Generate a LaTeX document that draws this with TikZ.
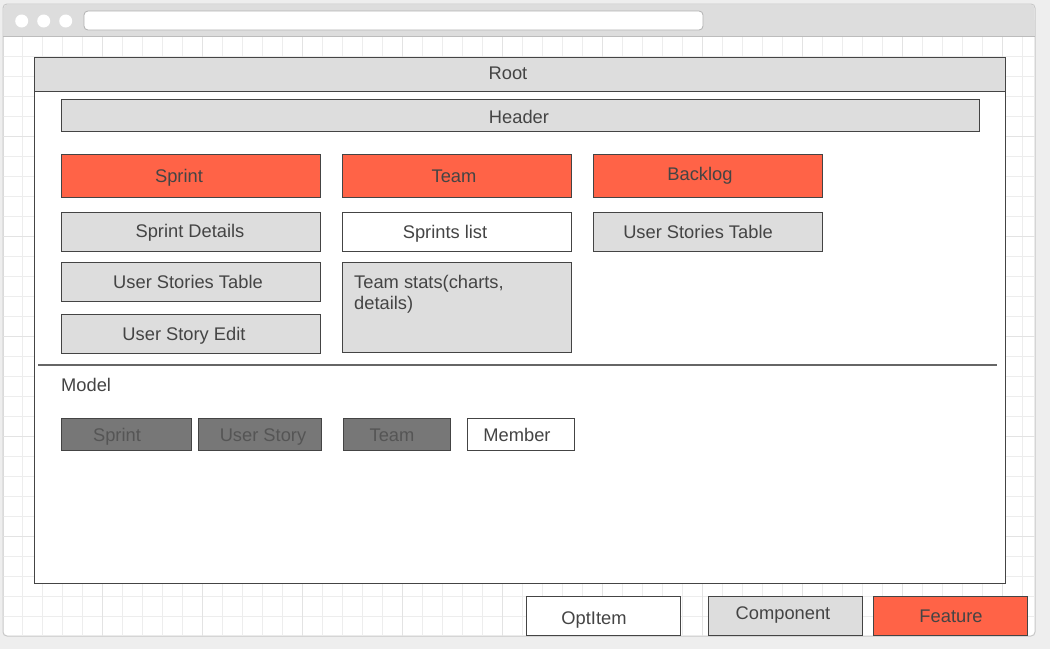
\documentclass[tikz,border=0pt]{standalone}
\usepackage{fontspec}
\setmainfont{Liberation Sans}
\definecolor{pagebg}{HTML}{EEEEEE}
\definecolor{chrome}{HTML}{DDDDDD}
\definecolor{gridc}{HTML}{EDEDED}
\definecolor{gridm}{HTML}{E3E3E3}
\definecolor{edge}{HTML}{444444}
\definecolor{txt}{HTML}{444444}
\definecolor{compc}{HTML}{DDDDDD}
\definecolor{featc}{HTML}{FF6347}
\definecolor{modelc}{HTML}{777777}
\definecolor{modeltxt}{HTML}{555555}
\definecolor{sepc}{HTML}{666666}
\tikzset{
  box/.style={draw=edge, line width=1pt},
  comp/.style={box, fill=compc},
  feat/.style={box, fill=featc},
  opt/.style={box, fill=white},
  modelbox/.style={box, fill=modelc},
  lbl/.style={text=txt, font=\fontsize{18.3}{21}\selectfont, inner sep=0pt, text height=13pt, text depth=0pt},
  mlbl/.style={lbl, text=modeltxt},
}
\begin{document}
\begin{tikzpicture}[x=1pt, y=-1pt]
\useasboundingbox (0,0) rectangle (1050,649);
\fill[pagebg] (0,0) rectangle (1050,649);
% browser window
\fill[white, draw=chrome!90!black, line width=1pt, rounded corners=4pt] (3,4) rectangle (1035,636);
\fill[chrome, rounded corners=4pt] (3.5,4.5) rectangle (1034.5,36.5);
\fill[chrome] (3.5,20) rectangle (1034.5,36.5);
\draw[chrome!85!black, line width=0.8pt] (3,36.7) -- (1035,36.7);
\foreach \cx in {21.7,43.7,65.7} \fill[white] (\cx,21) circle (6.5);
\draw[white, fill=white, draw=chrome!80!black, line width=0.8pt, rounded corners=4pt] (84,11) rectangle (703,30);
% grid
\begin{scope}
\clip (3.5,37.2) rectangle (1034.5,635.5);
\foreach \gx in {22.7,42.7,...,1035} \draw[gridc, line width=1pt] (\gx,37) -- (\gx,636);
\foreach \gy in {56.7,76.7,...,636} \draw[gridc, line width=1pt] (3,\gy) -- (1035,\gy);
\foreach \gx in {102.7,202.7,...,1035} \draw[gridm, line width=1pt] (\gx,37) -- (\gx,636);
\foreach \gy in {136.7,236.7,...,636} \draw[gridm, line width=1pt] (3,\gy) -- (1035,\gy);
\end{scope}
% root
\draw[box, fill=white] (34.5,57.5) rectangle (1005,583);
\draw[box, fill=compc] (34.5,57.5) rectangle (1005,91.5);
\node[lbl] (root) at (508,73) {Root};
% header
\draw[comp] (61,99) rectangle (979,131);
\node[lbl] (header) at (519,117) {Header};
% features
\draw[feat] (61,154) rectangle (320,197);
\node[lbl] (fsprint) at (179,176) {Sprint};
\draw[feat] (342,154) rectangle (571,197);
\node[lbl] (fteam) at (454,176) {Team};
\draw[feat] (593,154) rectangle (822,197);
\node[lbl] (fbacklog) at (700,174) {Backlog};
% components
\draw[comp] (61,212) rectangle (320,251);
\node[lbl] (sdetails) at (190,231) {Sprint Details};
\draw[opt] (342,212) rectangle (571,251);
\node[lbl] (slist) at (445,232) {Sprints list};
\draw[comp] (593,212) rectangle (822,251);
\node[lbl] (ustable2) at (698,232) {User Stories Table};
\draw[comp] (61,262) rectangle (320,301);
\node[lbl] (ustable) at (188,282) {User Stories Table};
\draw[comp] (342,262) rectangle (571,352);
\node[lbl, anchor=west] (tstats1) at (354,282) {Team stats(charts,};
\node[lbl, anchor=west] (tstats2) at (354,303) {details)};
\draw[comp] (61,314) rectangle (320,353);
\node[lbl] (usedit) at (184,334) {User Story Edit};
% separator
\draw[sepc, line width=2pt] (38,365) -- (997,365);
\node[lbl, anchor=west] (model) at (61,385) {Model};
% model boxes
\draw[modelbox] (61,418) rectangle (191,450);
\node[mlbl] (msprint) at (117,435) {Sprint};
\draw[modelbox] (198,418) rectangle (321,450);
\node[mlbl] (mstory) at (263,435) {User Story};
\draw[modelbox] (343,418) rectangle (450,450);
\node[mlbl] (mteam) at (392,435) {Team};
\draw[opt] (467,418) rectangle (574,450);
\node[lbl] (mmember) at (517,435) {Member};
% legend
\draw[opt] (526,596) rectangle (680,635);
\node[lbl] (optitem) at (594,618) {OptItem};
\draw[comp] (708,596) rectangle (862,635);
\node[lbl] (component) at (783,613) {Component};
\draw[feat] (873,596) rectangle (1027,635);
\node[lbl] (feature) at (951,616) {Feature};
\end{tikzpicture}
\end{document}
